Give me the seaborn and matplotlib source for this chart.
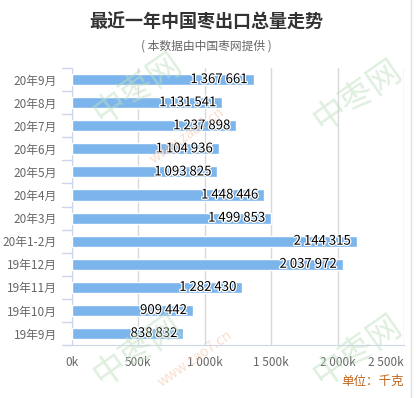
import matplotlib
matplotlib.use("Agg")
import matplotlib.pyplot as plt
import matplotlib.patheffects as pe
import seaborn as sns
import pandas as pd

# data (千克)
months = ["20年9月", "20年8月", "20年7月", "20年6月", "20年5月", "20年4月",
          "20年3月", "20年1-2月", "19年12月", "19年11月", "19年10月", "19年9月"]
volumes = [1367661, 1131541, 1237898, 1104936, 1093825, 1448446,
           1499853, 2144315, 2037972, 1282430, 909442, 838832]
x_ticks = [0, 500000, 1000000, 1500000, 2000000, 2500000]
x_tick_labels = ["0k", "500k", "1 000k", "1 500k", "2 000k", "2 500k"]

sns.set_style("white")
plt.rcParams["font.family"] = ["Noto Sans CJK SC", "DejaVu Sans"]

df = pd.DataFrame({"month": months, "volume": volumes})

fig = plt.figure(figsize=(4.16, 3.98), dpi=100)

# faint watermark behind everything
for x, y in [(0.33, 0.78), (0.86, 0.76), (0.33, 0.12), (0.86, 0.12)]:
    fig.text(x, y, "中枣网", rotation=35, fontsize=24, color="#bfe0bf",
             alpha=0.5, ha="center", va="center", zorder=0)
for x, y in [(0.45, 0.66), (0.47, 0.10)]:
    fig.text(x, y, "www.zao7.cn", rotation=35, fontsize=10, color="#f5c8b0",
             alpha=0.6, ha="center", va="center", zorder=0)

ax = fig.add_axes([0.173, 0.133, 0.798, 0.696])
ax.patch.set_alpha(0)

sns.barplot(data=df, x="volume", y="month", color="#7cb5ec", saturation=1,
            width=0.48, ax=ax, zorder=3)

ax.set_xlim(0, 2500000)
ax.set_ylim(11.5, -0.5)
ax.set_xticks(x_ticks)
ax.set_xticklabels(x_tick_labels, fontsize=8.5, color="#666666")
ax.get_xticklabels()[-1].set_horizontalalignment("right")
ax.tick_params(axis="x", length=5, color="#ccd6eb", pad=3)
ax.tick_params(axis="y", length=0, pad=11, labelsize=8.5, labelcolor="#666666")
ax.set_xlabel("")
ax.set_ylabel("")
ax.grid(axis="x", color="#d8d8d8", lw=1, zorder=0)

for s in ["top", "right"]:
    ax.spines[s].set_visible(False)
ax.spines["left"].set_color("#ccd6eb")
ax.spines["bottom"].set_color("#ccd6eb")

# y category boundary ticks
for b in range(13):
    ax.plot([-0.03, 0], [b - 0.5, b - 0.5], transform=ax.get_yaxis_transform(),
            color="#ccd6eb", lw=1, clip_on=False)

# value labels
for i, v in enumerate(volumes):
    lab = f"{v:,}".replace(",", " ")
    ax.annotate(lab, (v, i), xytext=(-4, 0), textcoords="offset points",
                ha="right", va="center", fontsize=9.5, color="black", zorder=5,
                path_effects=[pe.withStroke(linewidth=1.8, foreground="white")])

fig.text(0.495, 0.945, "最近一年中国枣出口总量走势", ha="center", va="center",
         fontsize=13, fontweight="bold", color="#333333")
fig.text(0.495, 0.884, "( 本数据由中国枣网提供 )", ha="center", va="center",
         fontsize=8.5, color="#666666")
fig.text(0.971, 0.043, "单位：千克", ha="right", va="center",
         fontsize=9, color="#c0651a")

# right border line
fig.add_artist(plt.Line2D([0.988, 0.988], [0, 1], color="#e0e0e0", lw=1))

fig.savefig("out.png", dpi=100)
